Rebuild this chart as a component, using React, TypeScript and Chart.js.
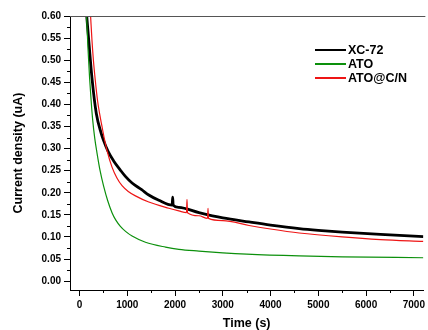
import React, { useEffect, useRef } from "react";
import { Chart, registerables } from "chart.js";

Chart.register(...registerables);

const seriesNames = ["XC-72", "ATO", "ATO@C/N"];
const seriesColors = ["#000000", "#0c900c", "#ee1515"];

// XC-72
const xcTime = [150, 200, 260, 350, 455, 504, 600, 714, 850, 960, 1100, 1300, 1450, 1660, 1940, 1950, 1960, 2080, 2500, 3000, 3550, 4000, 4600, 5000, 5500, 6300, 7200];
const xcValue = [0.60, 0.535, 0.46, 0.38, 0.334, 0.318, 0.293, 0.272, 0.252, 0.237, 0.222, 0.207, 0.195, 0.183, 0.172, 0.19, 0.172, 0.167, 0.155, 0.143, 0.134, 0.127, 0.119, 0.115, 0.111, 0.106, 0.101];

// ATO
const atoTime = [147, 175, 210, 245, 275, 320, 364, 430, 504, 590, 680, 760, 855, 970, 1100, 1380, 1800, 2080, 2500, 3000, 3500, 4600, 5500, 7200];
const atoValue = [0.60, 0.53, 0.46, 0.405, 0.365, 0.322, 0.291, 0.25, 0.215, 0.182, 0.155, 0.138, 0.124, 0.112, 0.102, 0.088, 0.077, 0.072, 0.068, 0.064, 0.061, 0.057, 0.055, 0.053];

// ATO@C/N
const acnTime = [231, 260, 290, 330, 375, 420, 470, 520, 574, 680, 780, 890, 1020, 1170, 1450, 1870, 2080, 2240, 2250, 2260, 2500, 2680, 2690, 2700, 3000, 3550, 4000, 4600, 5500, 6300, 7200];
const acnValue = [0.60, 0.545, 0.50, 0.454, 0.41, 0.379, 0.35, 0.322, 0.296, 0.258, 0.234, 0.216, 0.203, 0.193, 0.179, 0.165, 0.159, 0.155, 0.185, 0.155, 0.148, 0.142, 0.165, 0.142, 0.137, 0.126, 0.118, 0.109, 0.1, 0.094, 0.09];

const xMajorTicks = [0, 1000, 2000, 3000, 4000, 5000, 6000, 7000];
const xMinorTicks = [500, 1500, 2500, 3500, 4500, 5500, 6500];
const yMajorTicks = [0, 0.05, 0.1, 0.15, 0.2, 0.25, 0.3, 0.35, 0.4, 0.45, 0.5, 0.55, 0.6];
const yMinorTicks = [0.025, 0.075, 0.125, 0.175, 0.225, 0.275, 0.325, 0.375, 0.425, 0.475, 0.525, 0.575];

const xTitle = "Time (s)";
const yTitle = "Current density (uA)";

const toPoints = (t: number[], v: number[]) => t.map((x, i) => ({ x, y: v[i] }));

const decorPlugin = {
  id: "decor",
  afterDraw(chart: any) {
    const { ctx, chartArea, scales } = chart;
    const xs = scales.x;
    const ys = scales.y;
    ctx.save();
    // top frame line
    ctx.strokeStyle = "#555555";
    ctx.lineWidth = 1;
    ctx.beginPath();
    ctx.moveTo(chartArea.left, chartArea.top + 0.5);
    ctx.lineTo(chartArea.right + 2, chartArea.top + 0.5);
    ctx.stroke();
    // minor ticks
    ctx.strokeStyle = "#000000";
    ctx.beginPath();
    xMinorTicks.forEach((v) => {
      const px = Math.round(xs.getPixelForValue(v)) + 0.5;
      ctx.moveTo(px, chartArea.bottom);
      ctx.lineTo(px, chartArea.bottom + 3);
    });
    yMinorTicks.forEach((v) => {
      const py = Math.round(ys.getPixelForValue(v)) + 0.5;
      ctx.moveTo(chartArea.left, py);
      ctx.lineTo(chartArea.left - 3, py);
    });
    ctx.stroke();
    // legend
    const rows = [50, 64, 78];
    ctx.font = "bold 12.5px 'Liberation Sans', Arial, sans-serif";
    ctx.textBaseline = "middle";
    ctx.textAlign = "left";
    seriesNames.forEach((name, i) => {
      ctx.strokeStyle = seriesColors[i];
      ctx.lineWidth = 2;
      ctx.beginPath();
      ctx.moveTo(315, rows[i]);
      ctx.lineTo(346, rows[i]);
      ctx.stroke();
      ctx.fillStyle = "#000000";
      ctx.fillText(name, 348, rows[i] + 0.5);
    });
    ctx.restore();
  },
};

export default function App() {
  const ref = useRef<HTMLCanvasElement | null>(null);
  useEffect(() => {
    document.body.style.margin = "0";
    const canvas = ref.current;
    if (!canvas) return;
    const tickFont = { family: "'Liberation Sans', Arial, sans-serif", size: 10, weight: "bold" as const };
    const titleFont = { family: "'Liberation Sans', Arial, sans-serif", size: 12.5, weight: "bold" as const, lineHeight: 1 };
    const chart = new Chart(canvas, {
      type: "line",
      data: {
        datasets: [
          { label: seriesNames[0], data: toPoints(xcTime, xcValue), borderColor: seriesColors[0], borderWidth: 2.8, order: 3 },
          { label: seriesNames[1], data: toPoints(atoTime, atoValue), borderColor: seriesColors[1], borderWidth: 1.2, order: 2 },
          { label: seriesNames[2], data: toPoints(acnTime, acnValue), borderColor: seriesColors[2], borderWidth: 1.2, order: 1 },
        ],
      },
      options: {
        responsive: false,
        animation: false,
        parsing: false as any,
        elements: { point: { radius: 0 }, line: { cubicInterpolationMode: "monotone" } },
        layout: { padding: { top: 16, right: 2, left: 0, bottom: 0 } },
        plugins: { legend: { display: false }, tooltip: { enabled: false } },
        scales: {
          x: {
            type: "linear",
            min: -200,
            max: 7200,
            afterBuildTicks: (s: any) => {
              s.ticks = xMajorTicks.map((value) => ({ value }));
            },
            afterFit: (s: any) => {
              s.height = 40;
            },
            ticks: {
              font: tickFont,
              color: "#000",
              padding: 3,
              maxRotation: 0,
              autoSkip: false,
              callback: (v: any) => String(v),
            },
            grid: { drawOnChartArea: false, drawTicks: true, tickLength: 6, color: "#000" },
            border: { display: true, color: "#000", width: 1 },
            title: { display: true, text: xTitle, font: titleFont, color: "#000", padding: { top: 0, bottom: 0 } },
          },
          y: {
            type: "linear",
            min: -0.02,
            max: 0.6,
            afterBuildTicks: (s: any) => {
              s.ticks = yMajorTicks.map((value) => ({ value }));
            },
            afterFit: (s: any) => {
              s.width = 70;
            },
            ticks: {
              font: tickFont,
              color: "#000",
              padding: 3,
              autoSkip: false,
              callback: (v: any) => Number(v).toFixed(2),
            },
            grid: { drawOnChartArea: false, drawTicks: true, tickLength: 6, color: "#000" },
            border: { display: true, color: "#000", width: 1 },
            title: { display: true, text: yTitle, font: titleFont, color: "#000", padding: { top: 12, bottom: 0 } },
          },
        },
      },
      plugins: [decorPlugin],
    });
    return () => chart.destroy();
  }, []);
  return <canvas ref={ref} width={428} height={330} style={{ display: "block" }} />;
}
